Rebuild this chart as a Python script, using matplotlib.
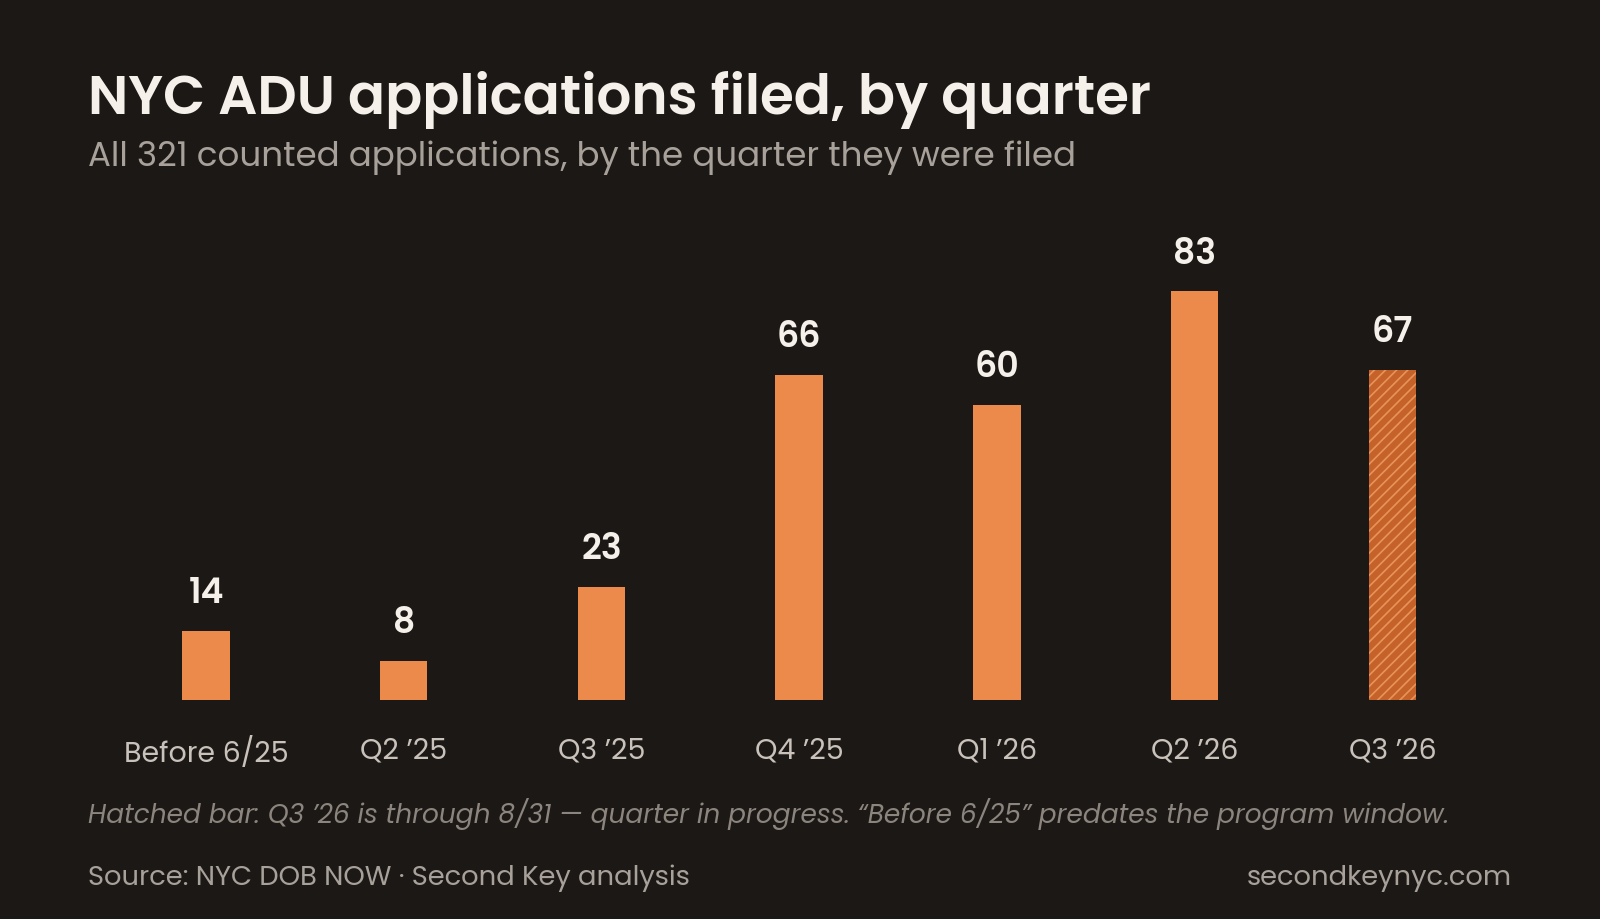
import matplotlib
matplotlib.use("Agg")
import matplotlib.pyplot as plt

categories = ["Before 6/25", "Q2 \u201925", "Q3 \u201925", "Q4 \u201925", "Q1 \u201926", "Q2 \u201926", "Q3 \u201926"]
values = [14, 8, 23, 66, 60, 83, 67]
partial = [False, False, False, False, False, False, True]

BG = "#1c1816"
ORANGE = "#EC8A4B"
plt.rcParams['font.family'] = ['Poppins', 'Inter', 'DejaVu Sans']
plt.rcParams['hatch.color'] = "#E8935A"
plt.rcParams['hatch.linewidth'] = 1.2

fig = plt.figure(figsize=(16, 9.2), dpi=100, facecolor=BG)
ax = fig.add_axes([0.067, 0.238, 0.865, 0.562], facecolor=BG)
x = list(range(len(categories)))
for i, (v, p) in enumerate(zip(values, partial)):
    if p:
        ax.bar(i, v, width=0.24, color="#C4622A", hatch="///", edgecolor="#E8935A", linewidth=0)
    else:
        ax.bar(i, v, width=0.24, color=ORANGE, linewidth=0)
    ax.text(i, v + 4, str(v), ha="center", va="bottom", fontsize=25, fontweight="semibold", color="#f5f0ea")
ax.set_xlim(-0.5, 6.5)
ax.set_ylim(0, 105)
ax.set_xticks(x)
ax.set_xticklabels(categories, fontsize=20.5, color="#c9c2ba")
ax.tick_params(length=0, pad=26, left=False, labelleft=False)
for s in ax.spines.values():
    s.set_visible(False)

fig.text(0.055, 0.891, "NYC ADU applications filed, by quarter", fontsize=39.5, fontweight="semibold", color="#f5f0ea", va="center")
fig.text(0.055, 0.828, "All 321 counted applications, by the quarter they were filed", fontsize=24.5, color="#a8a19a", va="center")
fig.text(0.055, 0.115, "Hatched bar: Q3 \u201926 is through 8/31 \u2014 quarter in progress. \u201cBefore 6/25\u201d predates the program window.",
         fontsize=19, style="italic", color="#8c857e", va="center")
fig.text(0.055, 0.045, "Source: NYC DOB NOW \u00b7 Second Key analysis", fontsize=19.7, color="#a8a19a", va="center")
fig.text(0.945, 0.045, "secondkeynyc.com", fontsize=19.7, color="#a8a19a", va="center", ha="right")
fig.savefig("out.png", facecolor=BG)
